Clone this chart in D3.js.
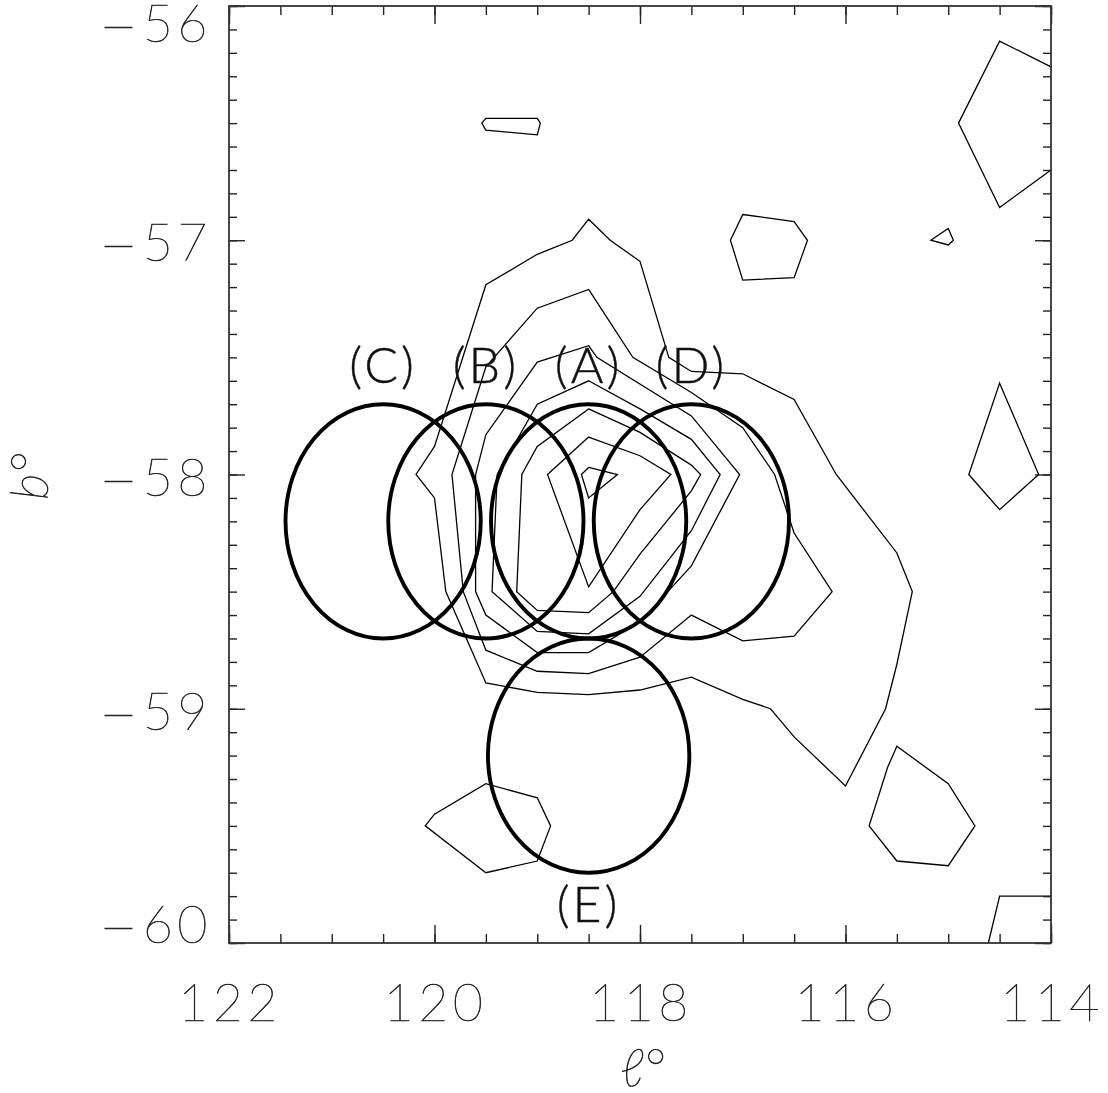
<!DOCTYPE html>
<html>
<head>
<meta charset="utf-8">
<title>Contours</title>
<script src="https://d3js.org/d3.v7.min.js"></script>
<style>
  body { margin: 0; background: #fff; }
  text { font-family: "Lato", "Liberation Sans", sans-serif; fill: #111; }
  .tick-label { font-size: 52px; letter-spacing: 4.5px; font-weight: 100; stroke: #222; stroke-width: 0.6; }
  .region-label { font-size: 50px; letter-spacing: 3px; font-weight: 300; stroke: #111; stroke-width: 0.4; }
  .axis-title { font-size: 52px; font-weight: 100; font-style: italic; stroke: #222; stroke-width: 0.7; }
  .contour { fill: none; stroke: #000; stroke-width: 1.3; stroke-linejoin: miter; }
  .region { fill: none; stroke: #000; stroke-width: 3.9; }
  .tick line { stroke: #222; stroke-width: 1.4; }
</style>
</head>
<body>
<div id="chart"></div>
<script>
// tick values
const lMajor = [122, 120, 118, 116, 114];
const lMinor = d3.range(0, 17).map(i => 114 + i * 0.5);
const bMajor = [-56, -57, -58, -59, -60];
const bMinor = d3.range(0, 41).map(i => -60 + i * 0.1);

// observed regions
const regionNames = ["(A)", "(B)", "(C)", "(D)", "(E)"];
const regionL = [118.5, 119.5, 120.5, 117.5, 118.5];
const regionB = [-58.2, -58.2, -58.2, -58.2, -59.2];
const regionRadiusL = [0.95, 0.95, 0.95, 0.95, 0.98];
const regionRadiusB = [0.5, 0.5, 0.5, 0.5, 0.5];

// contours, [l, b]
const contour1 = [[118.5,-56.91],[118.29,-57],[118,-57.09],[117.72,-57.5],[117.5,-57.56],[117,-57.57],[116.5,-57.68],[116.09,-58],[115.5,-58.335],[115.35,-58.5],[115.5,-58.81],[115.61,-59],[116,-59.33],[116.5,-59.12],[116.73,-59],[117,-58.96],[117.5,-58.865],[118,-58.92],[118.5,-58.94],[119,-58.93],[119.5,-58.89],[119.89,-58.5],[120,-58.1],[120.18,-58],[120,-57.88],[119.5,-57.19],[119,-57.06],[118.66,-57]];
const contour2 = [[118.5,-57.21],[118.07,-57.5],[117.5,-57.65],[117,-57.8],[116.69,-58],[116.5,-58.25],[116.13,-58.5],[116.5,-58.69],[117,-58.71],[117.5,-58.6],[118,-58.78],[118.5,-58.85],[119,-58.84],[119.5,-58.75],[119.72,-58.5],[119.83,-58],[119.5,-57.54],[119,-57.29]];
const contour3 = [[118.5,-57.45],[118.42,-57.5],[117.5,-57.75],[117.03,-58],[117.5,-58.39],[118,-58.63],[118.5,-58.76],[119,-58.76],[119.5,-58.6],[119.6,-58.5],[119.6,-58],[119.5,-57.83],[119,-57.52]];
const contour4 = [[118.5,-57.6],[118,-57.72],[117.5,-57.85],[117.22,-58],[117.5,-58.24],[118,-58.52],[118.5,-58.68],[119,-58.67],[119.44,-58.5],[119.39,-58],[119,-57.7]];
const contour5 = [[118.5,-57.72],[118,-57.82],[117.5,-57.96],[117.41,-58],[117.5,-58.07],[118,-58.34],[118.26,-58.5],[118.5,-58.59],[119,-58.58],[119.2,-58.5],[119.15,-58],[119,-57.88]];
const contour6 = [[118.5,-57.84],[118,-57.92],[117.7,-58],[118,-58.15],[118.5,-58.48],[118.9,-58]];
const contour7 = [[118.5,-57.97],[118.22,-58],[118.5,-58.1],[118.57,-58]];
const islandTop = [[119.54,-56.5],[119.5,-56.48],[119,-56.48],[118.97,-56.5],[119,-56.55],[119.5,-56.53]];
const islandMid = [[117,-56.89],[116.5,-56.92],[116.37,-57],[116.5,-57.16],[117,-57.17],[117.12,-57]];
const islandSmall = [[115.17,-57],[115,-56.95],[114.95,-57],[115,-57.02]];
const islandKite = [[114.5,-57.61],[114.12,-58],[114.5,-58.15],[114.8,-58]];
const islandLowRight = [[115.5,-59.16],[115,-59.32],[114.74,-59.5],[115,-59.67],[115.5,-59.65],[115.77,-59.5],[115.59,-59.25]];
const islandLowLeft = [[120.09,-59.5],[120,-59.45],[119.5,-59.32],[119,-59.38],[118.87,-59.5],[119,-59.65],[119.5,-59.7]];
// these two run off the frame
const edgeUpperRight = [[114,-56.26],[114.5,-56.15],[114.9,-56.5],[114.5,-56.86],[114,-56.7]];
const edgeLowerRight = [[114.61,-60],[114.5,-59.8],[114,-59.8]];

const closedContours = [contour1, contour2, contour3, contour4, contour5, contour6, contour7,
  islandTop, islandMid, islandSmall, islandKite, islandLowRight, islandLowLeft];
const openContours = [edgeUpperRight, edgeLowerRight];

const width = 1108, height = 1093;
const left = 229, right = 1051, top_ = 6, bottom = 943;

const svg = d3.select("#chart").append("svg")
  .attr("width", width)
  .attr("height", height);

const x = d3.scaleLinear().domain([122, 114]).range([left, right]);
const y = d3.scaleLinear().domain([-56, -60]).range([top_, bottom]);

// contours
const line = d3.line().x(d => x(d[0])).y(d => y(d[1]));
const closedLine = d3.line().x(d => x(d[0])).y(d => y(d[1])).curve(d3.curveLinearClosed);

svg.selectAll(".contour-closed").data(closedContours).enter().append("path")
  .attr("class", "contour contour-closed")
  .attr("d", closedLine);
svg.selectAll(".contour-open").data(openContours).enter().append("path")
  .attr("class", "contour contour-open")
  .attr("d", line);

// regions
svg.selectAll(".region").data(regionNames).enter().append("ellipse")
  .attr("class", "region")
  .attr("cx", (d, i) => x(regionL[i]))
  .attr("cy", (d, i) => y(regionB[i]))
  .attr("rx", (d, i) => x(regionL[i] - regionRadiusL[i]) - x(regionL[i]))
  .attr("ry", (d, i) => y(regionB[i] - regionRadiusB[i]) - y(regionB[i]));

// region names sit above the ellipse, E below it
svg.selectAll(".region-label").data(regionNames).enter().append("text")
  .attr("class", "region-label")
  .attr("text-anchor", "middle")
  .attr("x", (d, i) => x(regionL[i]))
  .attr("y", (d, i) => d === "(E)" ? 922 : 383)
  .text(d => d);

// ticks on all four sides
function drawTicks(axis, pos, values, size) {
  svg.append("g")
    .attr("transform", pos)
    .call(axis.tickValues(values).tickSize(-size).tickFormat(""))
    .call(g => g.select(".domain").remove());
}
drawTicks(d3.axisBottom(x), `translate(0,${bottom})`, lMinor, 9);
drawTicks(d3.axisBottom(x), `translate(0,${bottom})`, lMajor, 18);
drawTicks(d3.axisTop(x), `translate(0,${top_})`, lMinor, 9);
drawTicks(d3.axisTop(x), `translate(0,${top_})`, lMajor, 18);
drawTicks(d3.axisLeft(y), `translate(${left},0)`, bMinor, 8);
drawTicks(d3.axisLeft(y), `translate(${left},0)`, bMajor, 16);
drawTicks(d3.axisRight(y), `translate(${right},0)`, bMinor, 8);
drawTicks(d3.axisRight(y), `translate(${right},0)`, bMajor, 16);

svg.append("rect")
  .attr("x", left).attr("y", top_)
  .attr("width", right - left).attr("height", bottom - top_)
  .attr("fill", "none")
  .attr("stroke", "#333")
  .attr("stroke-width", 1.8);

// tick labels
svg.selectAll(".x-label").data(lMajor).enter().append("text")
  .attr("class", "tick-label x-label")
  .attr("text-anchor", "middle")
  .attr("x", d => x(d) + 1)
  .attr("y", 1021)
  .text(d => d);

// the end labels are pushed inside the axis range, minus drawn long and low
const yLabels = svg.selectAll(".y-label").data(bMajor).enter().append("text")
  .attr("class", "tick-label y-label")
  .attr("text-anchor", "end")
  .attr("x", 212)
  .attr("y", (d, i) => y(d) + (i === 0 ? 36 : i === bMajor.length - 1 ? 0 : 21));
yLabels.append("tspan")
  .attr("font-size", 68)
  .attr("dy", 8)
  .text("\u2212");
yLabels.append("tspan")
  .attr("dy", -8)
  .text(d => Math.abs(d));

// axis titles
svg.append("text")
  .attr("class", "axis-title")
  .attr("x", 621).attr("y", 1086)
  .text("\u2113\u00b0");

svg.append("text")
  .attr("class", "axis-title")
  .attr("transform", "translate(48,500) rotate(-90)")
  .text("b\u00b0");
</script>
</body>
</html>
